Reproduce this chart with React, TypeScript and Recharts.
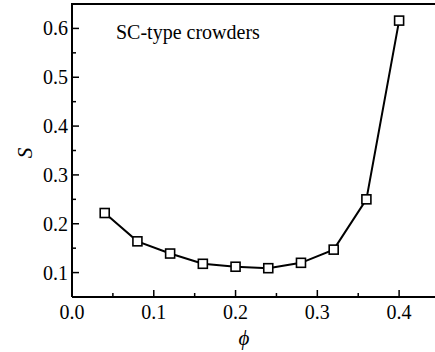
import React from "react";
import {
  LineChart,
  Line,
  XAxis,
  YAxis,
} from "recharts";

const phi = [0.04, 0.08, 0.12, 0.16, 0.2, 0.24, 0.28, 0.32, 0.36, 0.4];
const sValues = [0.222, 0.164, 0.139, 0.118, 0.112, 0.109, 0.12, 0.147, 0.25, 0.616];

const xTicks = [0, 0.05, 0.1, 0.15, 0.2, 0.25, 0.3, 0.35, 0.4];
const xMajor = [0, 0.1, 0.2, 0.3, 0.4];
const yTicks = [0.1, 0.15, 0.2, 0.25, 0.3, 0.35, 0.4, 0.45, 0.5, 0.55, 0.6];
const yMajor = [0.1, 0.2, 0.3, 0.4, 0.5, 0.6];

const data = phi.map((p, i) => ({ phi: p, s: sValues[i] }));

const font = "'Liberation Serif', 'Times New Roman', Times, serif";

const isMajor = (v: number, list: number[]) =>
  list.some((m) => Math.abs(m - v) < 1e-9);

const XTick = (props: any) => {
  const { x, y, payload } = props;
  const major = isMajor(payload.value, xMajor);
  return (
    <g>
      <line x1={x} x2={x} y1={y} y2={y - (major ? 7 : 4)} stroke="#000" strokeWidth={1.5} />
      {major && (
        <text x={x} y={y + 22} textAnchor="middle" fontFamily={font} fontSize={20} fill="#000">
          {payload.value.toFixed(1)}
        </text>
      )}
    </g>
  );
};

const YTick = (props: any) => {
  const { x, y, payload } = props;
  const major = isMajor(payload.value, yMajor);
  return (
    <g>
      <line x1={x} x2={x + (major ? 7 : 4)} y1={y} y2={y} stroke="#000" strokeWidth={1.5} />
      {major && (
        <text x={x - 4} y={y + 7} textAnchor="end" fontFamily={font} fontSize={20} fill="#000">
          {payload.value.toFixed(1)}
        </text>
      )}
    </g>
  );
};

const Square = (props: any) => {
  const { cx, cy } = props;
  return <rect x={cx - 4.5} y={cy - 4.5} width={9} height={9} fill="#fff" stroke="#000" strokeWidth={1.6} />;
};

export default function App() {
  return (
    <div
      style={{
        position: "fixed",
        left: 0,
        top: 0,
        width: 435,
        height: 352,
        overflow: "hidden",
        background: "#fff",
        fontFamily: font,
      }}
    >
      <LineChart
        width={445}
        height={352}
        data={data}
        margin={{ top: 4, right: 5, left: 0, bottom: 0 }}
      >
        <XAxis
          dataKey="phi"
          type="number"
          domain={[0, 0.45]}
          ticks={xTicks}
          interval={0}
          tickSize={0}
          tickMargin={0}
          tick={<XTick />}
          height={55}
          axisLine={{ stroke: "#000", strokeWidth: 2 }}
          tickLine={false}
          allowDataOverflow
        />
        <YAxis
          type="number"
          domain={[0.05, 0.65]}
          ticks={yTicks}
          interval={0}
          tickSize={0}
          tickMargin={0}
          tick={<YTick />}
          width={72}
          axisLine={{ stroke: "#000", strokeWidth: 2 }}
          tickLine={false}
          allowDataOverflow
        />
        <Line
          dataKey="s"
          stroke="#000"
          strokeWidth={2}
          dot={<Square />}
          isAnimationActive={false}
        />
      </LineChart>
      {/* top frame line */}
      <div style={{ position: "absolute", left: 71, top: 3, width: 364, height: 2, background: "#000" }} />
      <div style={{ position: "absolute", left: 116, top: 20, fontSize: 20, lineHeight: "24px", fontFamily: font }}>
        SC-type crowders
      </div>
      <div
        style={{
          position: "absolute",
          left: 15,
          top: 141,
          width: 20,
          height: 24,
          lineHeight: "24px",
          textAlign: "center",
          fontSize: 21,
          fontStyle: "italic",
          fontFamily: font,
          transform: "rotate(-90deg)",
        }}
      >
        S
      </div>
      <div
        style={{
          position: "absolute",
          left: 234,
          top: 326,
          width: 20,
          lineHeight: "24px",
          textAlign: "center",
          fontSize: 21,
          fontStyle: "italic",
          fontFamily: font,
        }}
      >
        ϕ
      </div>
    </div>
  );
}
